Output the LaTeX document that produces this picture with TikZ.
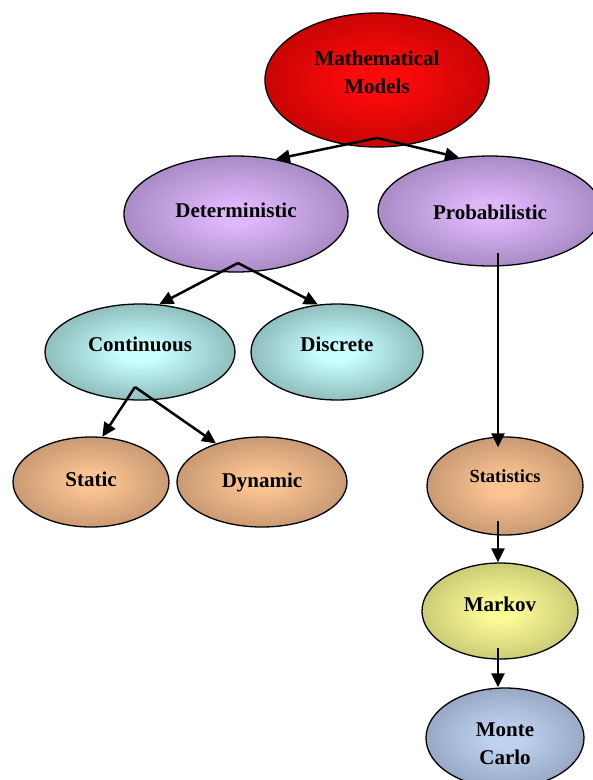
\documentclass[tikz,border=0pt]{standalone}
\usepackage{fontspec}
\setmainfont{Liberation Serif}
\usetikzlibrary{shapes.geometric,arrows.meta}
\colorlet{ellin}{white}
\colorlet{ellout}{gray}
\pgfdeclareradialshading[ellin,ellout]{ellrad}{\pgfpoint{0bp}{0bp}}{color(0bp)=(ellin);color(5bp)=(ellin);color(44bp)=(ellout);color(50bp)=(ellout)}
\definecolor{redIn}{RGB}{255,10,10}
\definecolor{redOut}{RGB}{150,0,0}
\definecolor{purpIn}{RGB}{222,182,250}
\definecolor{purpOut}{RGB}{118,98,148}
\definecolor{cyanIn}{RGB}{200,255,255}
\definecolor{cyanOut}{RGB}{88,128,128}
\definecolor{tanIn}{RGB}{250,195,145}
\definecolor{tanOut}{RGB}{155,115,88}
\definecolor{yelIn}{RGB}{250,250,150}
\definecolor{yelOut}{RGB}{160,160,88}
\definecolor{blueIn}{RGB}{190,210,240}
\definecolor{blueOut}{RGB}{115,130,155}
\newcommand\liftt[2]{\raisebox{#1}[\height][\depth]{\begin{tabular}{@{}c@{}}#2\end{tabular}}}
\tikzset{
  grad/.style 2 args={/utils/exec={\colorlet{ellin}{#1}\colorlet{ellout}{#2}}},
  oval/.style={ellipse, draw=black, line width=1.3pt, inner sep=0pt, align=center,
    font=\bfseries\fontsize{21}{28}\selectfont, shading=ellrad},
  conn/.style={line width=2.5pt, -{Triangle[length=14pt,width=13pt]}},
}
\begin{document}
\begin{tikzpicture}[x=1pt,y=-1pt]
\useasboundingbox (0,0) rectangle (593,780);
\node[oval, grad={redIn}{redOut}, minimum width=224pt, minimum height=134pt] (mm) at (377,80) {\liftt{6pt}{Mathematical\\Models}};
\node[oval, grad={purpIn}{purpOut}, minimum width=224pt, minimum height=116pt] (det) at (236,214) {\liftt{2pt}{Deterministic}};
\node[oval, grad={purpIn}{purpOut}, minimum width=224pt, minimum height=110pt] (prob) at (490,211) {\liftt{-3pt}{Probabilistic}};
\node[oval, grad={cyanIn}{cyanOut}, minimum width=190pt, minimum height=96pt] (cont) at (140,352) {\liftt{6pt}{Continuous}};
\node[oval, grad={cyanIn}{cyanOut}, minimum width=172pt, minimum height=96pt] (disc) at (337,352) {\liftt{6pt}{Discrete}};
\node[oval, grad={tanIn}{tanOut}, minimum width=156pt, minimum height=90pt] (stat) at (91,482) {\liftt{1pt}{Static}};
\node[oval, grad={tanIn}{tanOut}, minimum width=170pt, minimum height=90pt] (dyn) at (262,482) {Dynamic};
\node[oval, grad={tanIn}{tanOut}, minimum width=156pt, minimum height=98pt, font=\bfseries\fontsize{18.5}{24}\selectfont] (stats) at (505,486) {\liftt{8pt}{Statistics}};
\node[oval, grad={yelIn}{yelOut}, minimum width=156pt, minimum height=96pt] (mark) at (500,611) {\liftt{5pt}{Markov}};
\node[oval, grad={blueIn}{blueOut}, minimum width=158pt, minimum height=100pt] (mc) at (505,738) {\liftt{-7pt}{Monte\\Carlo}};
\coordinate (mmA) at (377,138);
\coordinate (detA) at (238,263);
\coordinate (contA) at (135,387);
\coordinate (probA) at (498,253);
\coordinate (statsA) at (498,521);
\coordinate (markA) at (498,648);
\draw[conn] (mmA) -- (det.54);
\draw[conn] (mmA) -- (prob.120);
\draw[conn] (detA) -- (cont.68);
\draw[conn] (detA) -- (disc.112);
\draw[conn] (contA) -- (stat.76);
\draw[conn] (contA) -- (dyn.140);
\draw[conn, shorten >=-11pt] (probA) -- (probA |- stats.north);
\draw[conn] (statsA) -- (statsA |- mark.north);
\draw[conn] (markA) -- (markA |- mc.north);
\end{tikzpicture}
\end{document}
